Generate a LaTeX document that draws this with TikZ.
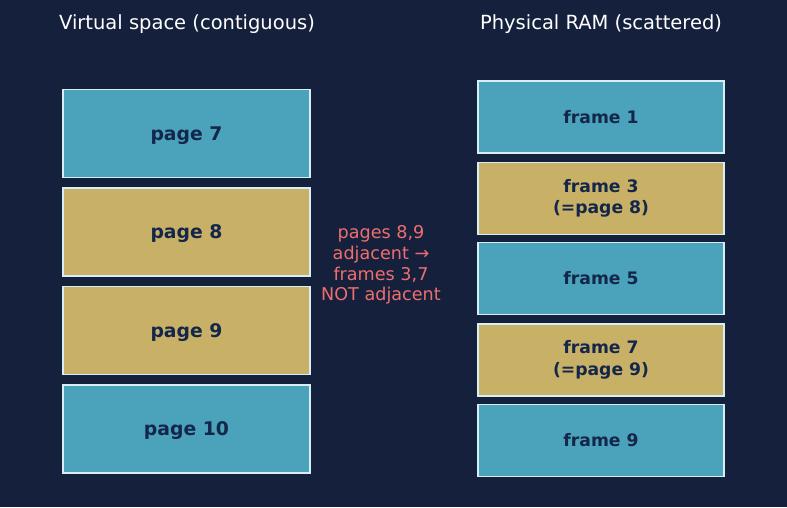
\documentclass[tikz,border=0pt]{standalone}
\usepackage{fontspec}
\setmainfont{DejaVu Sans}
\definecolor{bg}{HTML}{15203D}
\definecolor{blu}{HTML}{4AA2BB}
\definecolor{gld}{HTML}{C8B166}
\definecolor{edg}{HTML}{D8EEF5}
\definecolor{ink}{HTML}{14264A}
\definecolor{redt}{HTML}{EE6E6E}
\begin{document}
\begin{tikzpicture}[x=1pt,y=-1pt,
  box/.style={draw=edg, line width=1.5pt, inner sep=0pt, text=ink, align=center},
  pg/.style={box, minimum width=247pt, minimum height=88pt, font=\bfseries\fontsize{18.8}{21.5}\selectfont, text height=17.5pt, text depth=4.5pt},
  fr/.style={box, minimum width=246pt, minimum height=72pt, font=\bfseries\fontsize{17.2}{21.5}\selectfont},
  ttl/.style={text=white, font=\fontsize{19.5}{22}\selectfont}]
\fill[bg] (0,0) rectangle (787,507);
\useasboundingbox (0,0) rectangle (787,507);
\node[ttl] (t1) at (187,24.5) {Virtual space (contiguous)};
\node[ttl] (t2) at (601,24.5) {Physical RAM (scattered)};
\node[pg, fill=blu] (p7) at (186.5,133.5) {page 7};
\node[pg, fill=gld] (p8) at (186.5,232) {page 8};
\node[pg, fill=gld] (p9) at (186.5,330.5) {page 9};
\node[pg, fill=blu] (p10) at (186.5,429) {page 10};
\node[fr, fill=blu] (f1) at (601,117) {frame 1};
\node[fr, fill=gld] (f3) at (601,198.5) {frame 3\\(=page 8)};
\node[fr, fill=blu] (f5) at (601,278.5) {frame 5};
\node[fr, fill=gld] (f7) at (601,360) {frame 7\\(=page 9)};
\node[fr, fill=blu] (f9) at (601,440.5) {frame 9};
\node[text=redt, align=center, font=\fontsize{17.6}{20.8}\selectfont] (note) at (381,265) {pages 8,9\\adjacent →\\frames 3,7\\NOT adjacent};
\end{tikzpicture}
\end{document}
